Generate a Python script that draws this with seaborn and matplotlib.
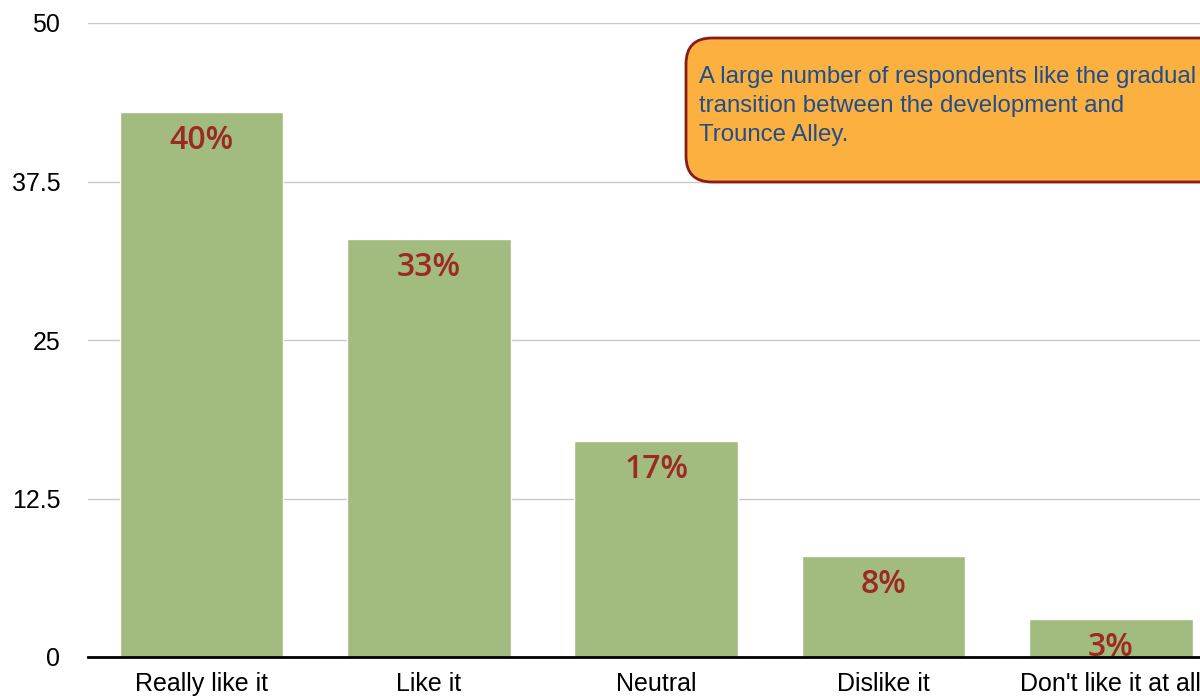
import matplotlib
matplotlib.use("Agg")
import matplotlib.pyplot as plt
import seaborn as sns
import pandas as pd
from matplotlib.patches import FancyBboxPatch
from matplotlib.transforms import IdentityTransform

# Datos del gráfico
categories = ["Really like it", "Like it", "Neutral", "Dislike it", "Don't like it at all"]
counts = [43, 33, 17, 8, 3]
pct_labels = ["40%", "33%", "17%", "8%", "3%"]
y_ticks = [0, 12.5, 25, 37.5, 50]
y_tick_labels = ["0", "12.5", "25", "37.5", "50"]
note = ("A large number of respondents like the gradual\n"
        "transition between the development and\n"
        "Trounce Alley.")

df = pd.DataFrame({"category": categories, "count": counts})

sns.set_theme(style="white")
plt.rcParams["font.family"] = ["Liberation Sans", "DejaVu Sans"]

fig = plt.figure(figsize=(12, 6.98), dpi=100)
ax = fig.add_axes([88 / 1200, 41 / 698, 1136.5 / 1200, 634 / 698])

sns.barplot(data=df, x="category", y="count", color="#a2bb7e", saturation=1,
            width=0.72, ax=ax, zorder=2)

ax.set_xlim(-0.5, len(categories) - 0.5)
ax.set_ylim(0, 50)
ax.set_yticks(y_ticks)
ax.set_yticklabels(y_tick_labels, fontsize=18, color="black")
ax.tick_params(axis="y", length=0, pad=20)
ax.tick_params(axis="x", length=0, pad=11, labelsize=18, labelcolor="black")
ax.set_xlabel("")
ax.set_ylabel("")
ax.yaxis.grid(True, color="#c8c8c8", linewidth=1, zorder=0)
ax.set_axisbelow(True)
for side in ["top", "right", "left"]:
    ax.spines[side].set_visible(False)
ax.spines["bottom"].set_color("black")
ax.spines["bottom"].set_linewidth(2)
ax.spines["bottom"].set_zorder(3)

# Etiquetas de porcentaje dentro de las barras
for bar, lab in zip(ax.patches, pct_labels):
    ax.annotate(lab, (bar.get_x() + bar.get_width() / 2, bar.get_height()),
                xytext=(0, -20.5), textcoords="offset points",
                ha="center", va="center", fontsize=23, color="#9b2a22",
                family=["Open Sans", "DejaVu Sans"], fontweight="semibold",
                zorder=4)

# Cuadro de nota
box = FancyBboxPatch((686, 516), 540, 144,
                     boxstyle="round,pad=0,rounding_size=26",
                     transform=IdentityTransform(), facecolor="#fbb040",
                     edgecolor="#8b1a1a", linewidth=2, zorder=5)
fig.patches.append(box)
fig.text(699 / 1200, 1 - 66 / 698, note, ha="left", va="top", fontsize=17.3,
         color="#1f4e8c", linespacing=1.41, zorder=6)

fig.savefig("out.png", dpi=100)
